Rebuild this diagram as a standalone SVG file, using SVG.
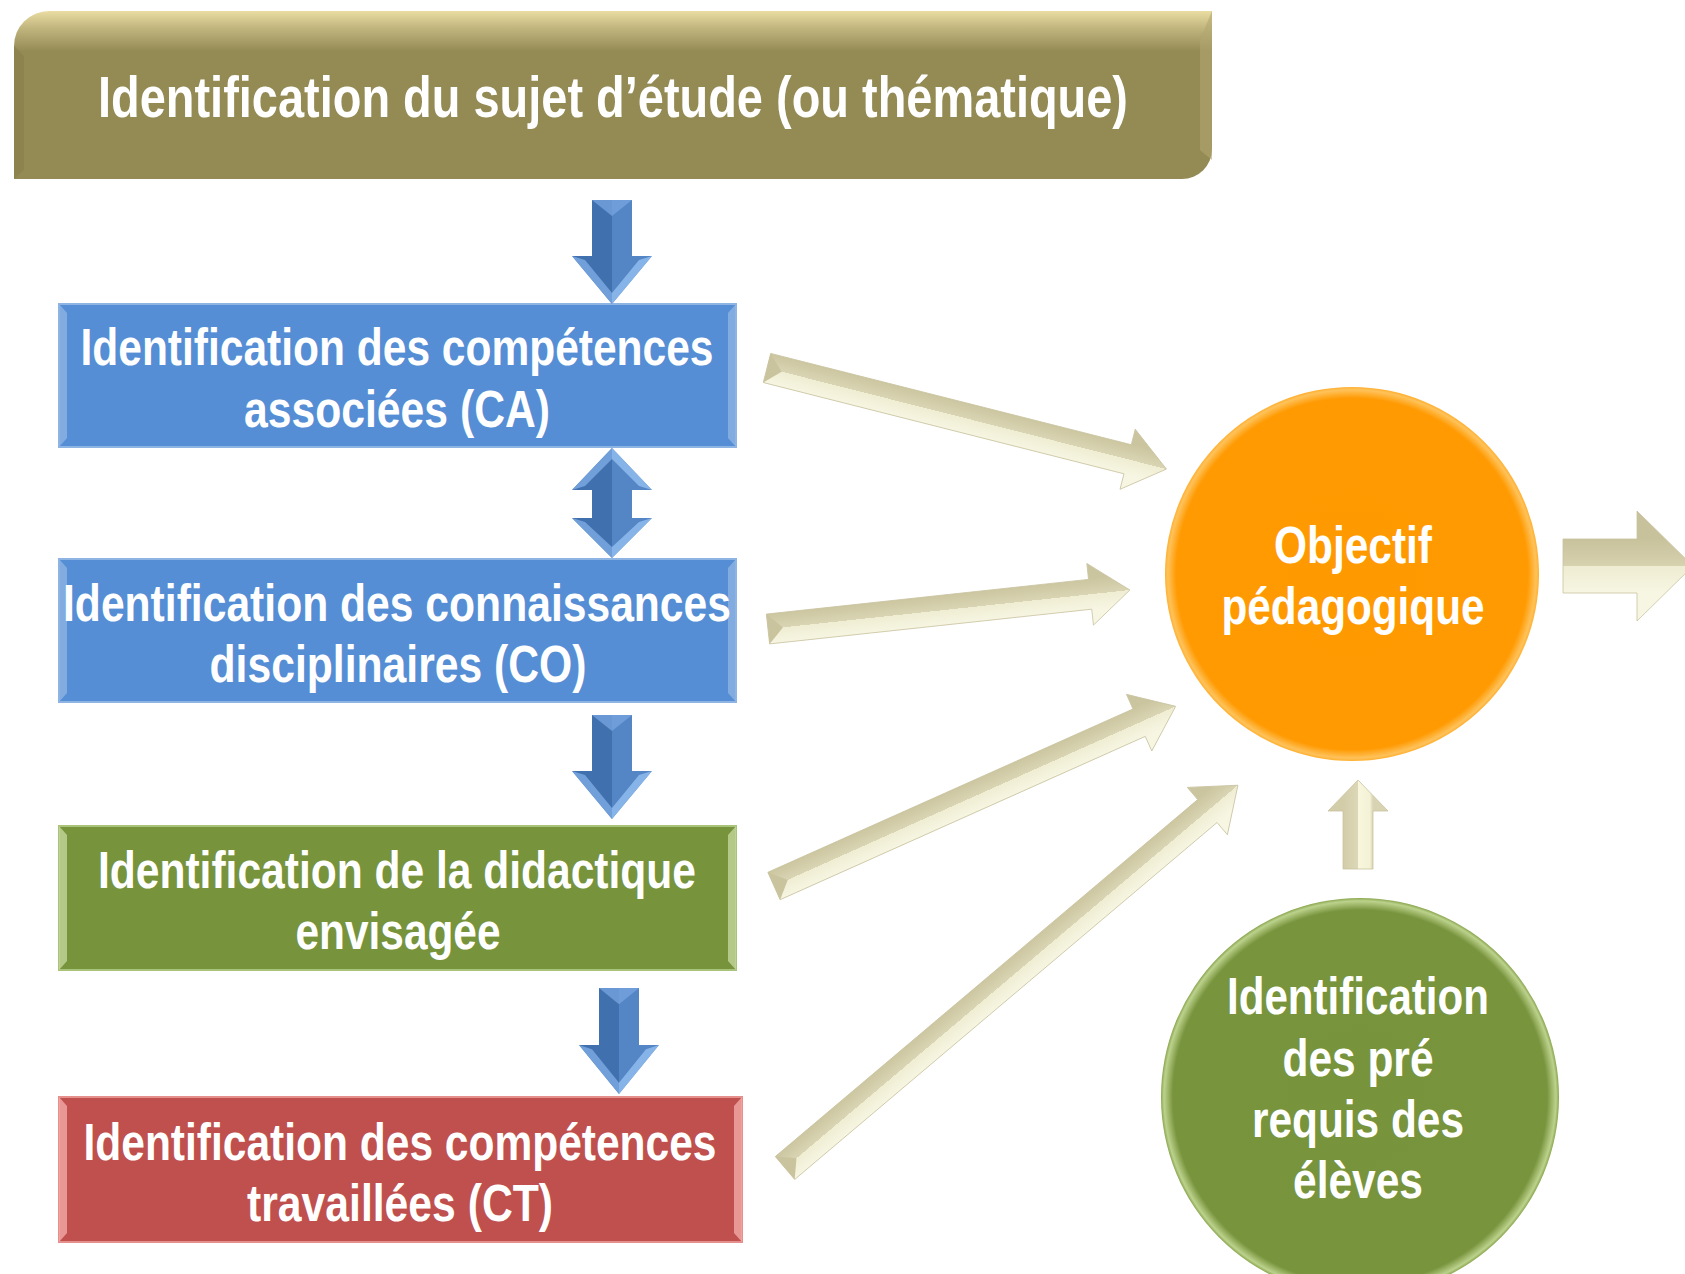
<svg xmlns="http://www.w3.org/2000/svg" width="1685" height="1274" viewBox="0 0 1685 1274">
<style>
.t{font-family:"Liberation Sans Narrow","Liberation Sans",Arial,sans-serif;font-weight:bold;fill:#ffffff;text-anchor:middle;font-size:52px}
.big{font-size:57px}
.bar{stroke:#C9C3A0;stroke-width:0.8}
.tail{fill:#C9C39E}
</style>
<defs>
<linearGradient id="olive" x1="0" y1="0" x2="0" y2="1">
<stop offset="0" stop-color="#EADDA2"/>
<stop offset="0.1" stop-color="#C2B67F"/>
<stop offset="0.24" stop-color="#948A54"/>
<stop offset="1" stop-color="#948A54"/>
</linearGradient>
<linearGradient id="beige" gradientUnits="userSpaceOnUse" x1="0" y1="-16" x2="0" y2="16">
<stop offset="0" stop-color="#CBC59F"/>
<stop offset="0.5" stop-color="#D9D4B3"/>
<stop offset="0.5" stop-color="#EFEDD2"/>
<stop offset="1" stop-color="#F7F6E3"/>
</linearGradient>
<linearGradient id="beigeBig" gradientUnits="userSpaceOnUse" x1="0" y1="-27" x2="0" y2="27">
<stop offset="0" stop-color="#C8C29C"/>
<stop offset="0.5" stop-color="#D6D1AF"/>
<stop offset="0.5" stop-color="#EEECD1"/>
<stop offset="1" stop-color="#F7F6E3"/>
</linearGradient>
<linearGradient id="beigeUp" gradientUnits="userSpaceOnUse" x1="0" y1="-15" x2="0" y2="15">
<stop offset="0" stop-color="#D2CCA9"/>
<stop offset="0.5" stop-color="#DCD7B6"/>
<stop offset="0.5" stop-color="#F8F6DC"/>
<stop offset="0.9" stop-color="#F3F1D6"/>
<stop offset="1" stop-color="#D8D3B2"/>
</linearGradient>
<radialGradient id="orange" cx="0.5" cy="0.5" r="0.5">
<stop offset="0" stop-color="#FF9900"/>
<stop offset="0.94" stop-color="#FF9A02"/>
<stop offset="0.985" stop-color="#FFC25A"/>
<stop offset="1" stop-color="#FFB030"/>
</radialGradient>
<radialGradient id="green" cx="0.5" cy="0.5" r="0.5">
<stop offset="0" stop-color="#77933C"/>
<stop offset="0.94" stop-color="#78943D"/>
<stop offset="0.985" stop-color="#BCD28C"/>
<stop offset="1" stop-color="#8AA650"/>
</radialGradient>
<g id="blueDown">
<polygon points="-20,0 0,0 0,104 -40,56 -20,56" fill="#4170AE"/>
<polygon points="0,0 20,0 20,56 40,56 0,104" fill="#5485C4"/>
<polygon points="-20,0 20,0 0,16" fill="#74A3DE" opacity="0.8"/>
<polygon points="-40,56 -27,60 0,93 0,104" fill="#79A7E0" opacity="0.85"/>
<polygon points="40,56 27,60 0,93 0,104" fill="#8FBCF0" opacity="0.85"/>
</g>
</defs>

<rect x="0" y="0" width="1685" height="1274" fill="#ffffff"/>

<g id="node-sujet">
<path d="M14,179 V46 A35,35 0 0 1 49,11 H1212 V149 A30,30 0 0 1 1182,179 Z" fill="url(#olive)"/>
<polygon points="14,46 24,56 24,170 14,179" fill="#857B47" opacity="0.5"/>
<polygon points="1212,11 1200,40 1200,150 1212,160" fill="#B2A770" opacity="0.6"/>
<text class="t big" x="613" y="117" textLength="1030" lengthAdjust="spacingAndGlyphs">Identification du sujet d’étude (ou thématique)</text>
</g>

<g id="node-CA">
<rect x="59" y="304" width="677" height="143" fill="#558ED5" stroke="#8DB4E2" stroke-width="2"/>
<polygon points="59,304 67,313 67,438 59,447" fill="#8DB4E2" opacity="0.8"/>
<polygon points="736,304 728,313 728,438 736,447" fill="#8DB4E2" opacity="0.8"/>
<text class="t" x="397" y="365" textLength="633" lengthAdjust="spacingAndGlyphs">Identification des compétences</text>
<text class="t" x="397" y="427" textLength="306" lengthAdjust="spacingAndGlyphs">associées (CA)</text>
</g>

<g id="node-CO">
<rect x="59" y="559" width="677" height="143" fill="#558ED5" stroke="#8DB4E2" stroke-width="2"/>
<polygon points="59,559 67,568 67,693 59,702" fill="#8DB4E2" opacity="0.8"/>
<polygon points="736,559 728,568 728,693 736,702" fill="#8DB4E2" opacity="0.8"/>
<text class="t" x="397" y="621" textLength="668" lengthAdjust="spacingAndGlyphs">Identification des connaissances</text>
<text class="t" x="398" y="682" textLength="377" lengthAdjust="spacingAndGlyphs">disciplinaires (CO)</text>
</g>

<g id="node-didactique">
<rect x="59" y="826" width="677" height="144" fill="#77933C" stroke="#A9C47A" stroke-width="2"/>
<polygon points="59,826 67,835 67,961 59,970" fill="#C3D69B" opacity="0.8"/>
<polygon points="736,826 728,835 728,961 736,970" fill="#C3D69B" opacity="0.8"/>
<text class="t" x="397" y="888" textLength="598" lengthAdjust="spacingAndGlyphs">Identification de la didactique</text>
<text class="t" x="398" y="949" textLength="205" lengthAdjust="spacingAndGlyphs">envisagée</text>
</g>

<g id="node-CT">
<rect x="59" y="1097" width="683" height="145" fill="#C0504D" stroke="#E6908E" stroke-width="2"/>
<polygon points="59,1097 67,1106 67,1233 59,1242" fill="#F2A9A7" opacity="0.8"/>
<polygon points="742,1097 734,1106 734,1233 742,1242" fill="#F2A9A7" opacity="0.8"/>
<text class="t" x="400" y="1160" textLength="633" lengthAdjust="spacingAndGlyphs">Identification des compétences</text>
<text class="t" x="400" y="1221" textLength="306" lengthAdjust="spacingAndGlyphs">travaillées (CT)</text>
</g>

<g id="node-objectif">
<circle cx="1352" cy="574" r="187" fill="url(#orange)"/>
<text class="t" x="1353" y="563" textLength="158" lengthAdjust="spacingAndGlyphs">Objectif</text>
<text class="t" x="1353" y="624" textLength="263" lengthAdjust="spacingAndGlyphs">pédagogique</text>
</g>

<g id="node-prerequis">
<circle cx="1360" cy="1097" r="199" fill="url(#green)"/>
<text class="t" x="1358" y="1014" textLength="262" lengthAdjust="spacingAndGlyphs">Identification</text>
<text class="t" x="1358" y="1076" textLength="151" lengthAdjust="spacingAndGlyphs">des pré</text>
<text class="t" x="1358" y="1137" textLength="212" lengthAdjust="spacingAndGlyphs">requis des</text>
<text class="t" x="1358" y="1198" textLength="130" lengthAdjust="spacingAndGlyphs">élèves</text>
</g>

<g id="connectors">
<use href="#blueDown" transform="translate(612,200)"/>
<g transform="translate(612,448)">
<polygon points="0,0 0,110 -40,70 -20,70 -20,42 -40,42" fill="#4170AE"/>
<polygon points="0,0 40,42 20,42 20,70 40,70 0,110" fill="#5485C4"/>
<polygon points="0,0 -40,42 -27,38 0,11" fill="#79A7E0" opacity="0.85"/>
<polygon points="0,0 40,42 27,38 0,11" fill="#8FBCF0" opacity="0.85"/>
<polygon points="-40,70 -27,74 0,99 0,110" fill="#79A7E0" opacity="0.85"/>
<polygon points="40,70 27,74 0,99 0,110" fill="#8FBCF0" opacity="0.85"/>
</g>
<use href="#blueDown" transform="translate(612,715)"/>
<use href="#blueDown" transform="translate(619,988) scale(1,1.02)"/>

<g transform="translate(767,368) rotate(14.2)">
<path class="bar" d="M0,-15 H372 V-31 L412,0 L372,31 V15 H0 Z" fill="url(#beige)"/>
<polygon class="tail" points="0,-15 15,0 0,15"/>
</g>
<g transform="translate(768,629) rotate(-6.15)">
<path class="bar" d="M0,-15 H324 V-31 L364,0 L324,31 V15 H0 Z" fill="url(#beige)"/>
<polygon class="tail" points="0,-15 15,0 0,15"/>
</g>
<g transform="translate(774,886) rotate(-24.1)">
<path class="bar" d="M0,-15 H400 V-31 L440,0 L400,31 V15 H0 Z" fill="url(#beige)"/>
<polygon class="tail" points="0,-15 15,0 0,15"/>
</g>
<g transform="translate(785,1168) rotate(-40.2)">
<path class="bar" d="M0,-15 H553 V-31 L593,0 L553,31 V15 H0 Z" fill="url(#beige)"/>
<polygon class="tail" points="0,-15 15,0 0,15"/>
</g>

<path class="bar" transform="translate(1563,566)" d="M0,-27 H74 V-55 L130,0 L74,55 V27 H0 Z" fill="url(#beigeBig)"/>
<path class="bar" transform="translate(1358,869) rotate(-90)" d="M0,-15 H58 V-30 L89,0 L58,30 V15 H0 Z" fill="url(#beigeUp)"/>
</g>
</svg>
